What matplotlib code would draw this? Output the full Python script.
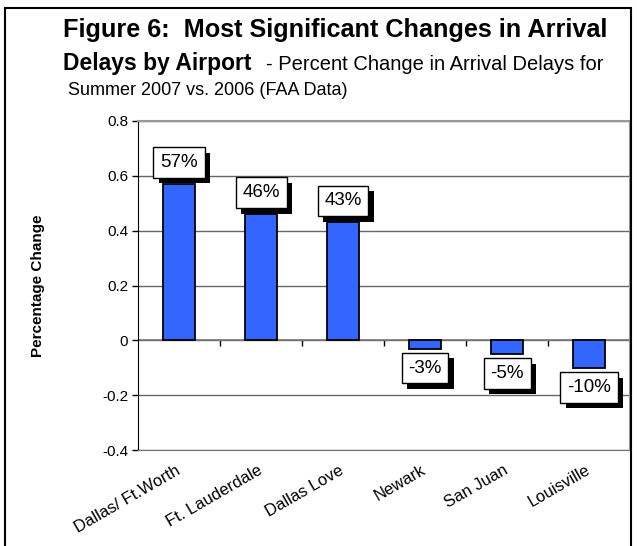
import matplotlib
matplotlib.use('Agg')
import matplotlib.pyplot as plt
import matplotlib.patheffects as pe
import matplotlib.transforms as mtransforms
from matplotlib.patches import Rectangle
from matplotlib.ticker import FuncFormatter, FixedLocator

plt.rcParams['font.family'] = ['Liberation Sans', 'DejaVu Sans']

airports = ['Dallas/ Ft.Worth', 'Ft. Lauderdale', 'Dallas Love', 'Newark', 'San Juan', 'Louisville']
changes = [0.57, 0.46, 0.43, -0.03, -0.05, -0.10]
bar_labels = ['57%', '46%', '43%', '-3%', '-5%', '-10%']
y_ticks = [-0.4, -0.2, 0, 0.2, 0.4, 0.6, 0.8]

W, H = 637, 546
fig = plt.figure(figsize=(W / 100, H / 100), dpi=100)

# outer frame
fig.patches.append(Rectangle((5 / W, -0.01), 626 / W, 1 - 8 / H + 0.01, transform=fig.transFigure,
                             fill=False, edgecolor='black', linewidth=1.5))

ax = fig.add_axes([138 / W, (H - 450) / H, (630 - 138) / W, (450 - 121) / H])

x = list(range(len(airports)))
ax.bar(x, changes, width=0.4, color='#3366FF', edgecolor='black', linewidth=1.3, zorder=3)

ax.set_xlim(-0.5, len(airports) - 0.5)
ax.set_ylim(-0.4, 0.8)
ax.set_yticks(y_ticks)
ax.yaxis.set_major_formatter(FuncFormatter(lambda v, pos: '%g' % round(v, 1)))
ax.tick_params(axis='y', direction='out', length=4, width=1, labelsize=11, pad=3)
ax.yaxis.grid(True, color='#666666', linewidth=1, zorder=0)

ax.set_xticks(x)
ax.set_xticklabels(airports, rotation=30, ha='right', rotation_mode='anchor', fontsize=12)
ax.tick_params(axis='x', length=0, pad=9)
shift = mtransforms.ScaledTranslation(-4 / 100, 0, fig.dpi_scale_trans)
for lab in ax.get_xticklabels():
    lab.set_transform(lab.get_transform() + shift)

for s in ['top', 'right']:
    ax.spines[s].set_color('#999999')
    ax.spines[s].set_linewidth(1.5)
ax.spines['left'].set_color('black')
ax.spines['bottom'].set_color('#777777')

# zero line with category boundary ticks
ax.axhline(0, color='#777777', linewidth=1.2, zorder=2)
zero_ax = ax.secondary_xaxis(1 / 3)
zero_ax.xaxis.set_major_locator(FixedLocator([i + 0.5 for i in x[:-1]]))
zero_ax.tick_params(direction='out', length=4, width=1, color='black')
zero_ax.set_xticklabels([])
zero_ax.spines['bottom'].set_visible(False)

ax.set_ylabel('Percentage Change', fontsize=11, fontweight='bold')
ax.yaxis.set_label_coords(-0.189, 0.5)

# value boxes with drop shadow
for xi, v, lab in zip(x, changes, bar_labels):
    if v >= 0:
        t = ax.annotate(lab, (xi, v), xytext=(0, 13), textcoords='offset pixels',
                        ha='center', va='bottom', fontsize=13.5, zorder=5)
    else:
        t = ax.annotate(lab, (xi, v), xytext=(0, -11), textcoords='offset pixels',
                        ha='center', va='top', fontsize=13.5, zorder=5)
    t.set_bbox(dict(boxstyle='square,pad=0.36', facecolor='white', edgecolor='black', linewidth=1))
    t.get_bbox_patch().set_path_effects([
        pe.SimplePatchShadow(offset=(4, -4), shadow_rgbFace='black', alpha=1), pe.Normal()])

# title
fig.text(63 / W, 1 - 37 / H, 'Figure 6:  Most Significant Changes in Arrival',
         fontsize=18.2, fontweight='bold', va='baseline')
t1 = fig.text(63 / W, 1 - 70 / H, 'Delays by Airport', fontsize=16.5, fontweight='bold', va='baseline')
fig.canvas.draw()
ext = t1.get_window_extent()
fig.text((ext.x1 + 14) / W, 1 - 70 / H, '- Percent Change in Arrival Delays for',
         fontsize=14.5, va='baseline')
fig.text(68 / W, 1 - 95 / H, 'Summer 2007 vs. 2006 (FAA Data)', fontsize=13, va='baseline')

fig.savefig('out.png', dpi=100)
